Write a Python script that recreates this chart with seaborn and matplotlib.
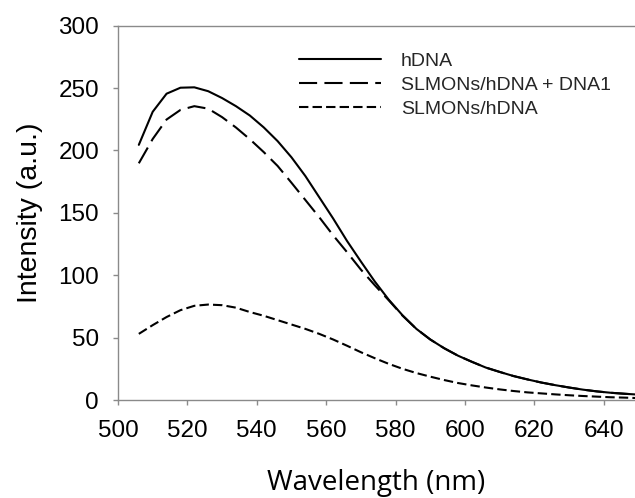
import numpy as np
import pandas as pd
import matplotlib
matplotlib.use("Agg")
import matplotlib.pyplot as plt
import seaborn as sns

wavelength = [506, 510, 514, 518, 522, 526, 530, 534, 538, 542, 546, 550, 554, 558,
              562, 566, 570, 574, 578, 582, 586, 590, 594, 598, 602, 606, 610, 614,
              618, 622, 626, 630, 634, 638, 642, 646, 650]
hdna = [204.5, 231, 245.5, 250.3, 250.6, 247.5, 242, 235.5, 228, 218.5, 207.5, 194.5,
        179.5, 162.5, 145.5, 127.5, 111, 95, 80.5, 67.9, 57, 48.5, 41.5, 35.5,
        30.6, 26, 22.5, 19.2, 16.5, 14, 11.9, 10, 8.3, 6.9, 5.8, 5.0, 4.3]
hdna_dna1 = [189.7, 209.2, 224.8, 232.5, 235.5, 233.5, 226.7, 218.4, 209, 198.7, 187.6,
             174.1, 160.3, 146.5, 132, 118.5, 104.5, 92, 80, 67.6, 57, 48.5, 41.5,
             35.5, 30.6, 26, 22.5, 19.2, 16.5, 14, 11.9, 10, 8.3, 6.9, 5.8, 5.0, 4.3]
slmons = [53, 60, 66.5, 72, 75.5, 76.5, 76, 74, 70.5, 67.5, 64, 60.5, 57, 53,
          48.5, 43.5, 38.3, 33.5, 29, 25, 21.6, 18.7, 16, 13.6, 11.7, 10, 8.5, 7.2,
          6.1, 5.3, 4.5, 3.8, 3.2, 2.7, 2.2, 1.9, 1.5]
labels = ["hDNA", "SLMONs/hDNA + DNA1", "SLMONs/hDNA"]
x_ticks = [500, 520, 540, 560, 580, 600, 620, 640]
y_ticks = [0, 50, 100, 150, 200, 250, 300]

sns.set_theme(style="white")
plt.rcParams["font.family"] = ["Liberation Sans", "DejaVu Sans"]

fig = plt.figure(figsize=(6.35, 4.98), dpi=100)
ax = fig.add_axes([118 / 635, 1 - 400 / 498, 1 - 118 / 635, (400 - 25.7) / 498])

series = [hdna, hdna_dna1, slmons]
styles = ["-", (0, (8.7, 3.5)), (0, (4.5, 2.0))]
for vals, lab, ls in zip(series, labels, styles):
    sns.lineplot(x=wavelength, y=vals, ax=ax, color="black", linewidth=1.5,
                 linestyle=ls, label=lab)

ax.set_xlim(500, 649)
ax.set_ylim(0, 300)
ax.set_xticks(x_ticks)
ax.set_yticks(y_ticks)
ax.set_xticklabels([str(v) for v in x_ticks])
ax.set_yticklabels([str(v) for v in y_ticks])

spine_color = "#8a8a8a"
for side in ["left", "bottom", "top"]:
    ax.spines[side].set_visible(True)
    ax.spines[side].set_color(spine_color)
    ax.spines[side].set_linewidth(1.0)
ax.spines["right"].set_visible(False)

ax.tick_params(axis="both", which="major", direction="out", length=3.6, width=1.0,
               color=spine_color, labelsize=17.5, labelcolor="black")
ax.tick_params(axis="y", pad=10, left=True)
ax.tick_params(axis="x", pad=11, bottom=True)

ax.set_xlabel("Wavelength (nm)", fontsize=20, family=["Open Sans", "DejaVu Sans"],
              color="black", labelpad=19)
ax.set_ylabel("Intensity (a.u.)", fontsize=20.5, color="black", labelpad=11)

ax.legend(loc="upper left", bbox_to_anchor=(299 / 635, 1 - 52 / 498),
          bbox_transform=fig.transFigure, frameon=False, fontsize=14,
          handlelength=4.2, handletextpad=1.05, labelspacing=0.33,
          borderpad=0, borderaxespad=0)

fig.savefig("out.png", dpi=100)
